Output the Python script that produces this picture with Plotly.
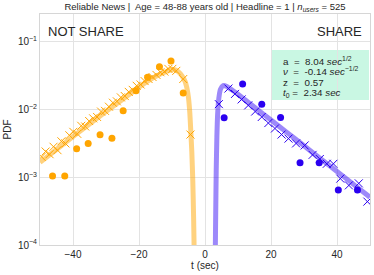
import plotly.graph_objects as go

# ---- data ----
ns_dot_t = [-46.2, -42.5, -38.9, -35.4, -31.8, -28.2, -24.8, -20.9, -17.4, -13.8, -10.3, -6.6]
ns_dot_y = [1.04e-3, 1.04e-3, 2.64e-3, 3.16e-3, 4.25e-3, 3.75e-3, 9.6e-3, 1.9e-2, 2.99e-2, 4.28e-2, 5.2e-2, 1.76e-2]

sh_dot_t = [5.8, 11.4, 17.2, 22.9, 28.8, 34.6, 40.4, 46.2]
sh_dot_y = [7.55e-3, 2.39e-2, 1.2e-2, 7.6e-3, 1.64e-3, 1.64e-3, 6.5e-4, 6.5e-4]

ns_sim_t = [-49.5, -48.3, -47.1, -45.9, -44.7, -43.5, -42.3, -41.1, -39.9, -38.7, -37.5, -36.3,
            -35.1, -33.9, -32.7, -31.5, -30.3, -29.1, -27.9, -26.7, -25.5, -24.3, -23.1, -21.9,
            -20.7, -19.5, -18.3, -17.1, -15.9, -14.7, -13.5, -12.3, -11.1, -9.9, -8.7, -6.6, -4.4]
ns_sim_y = [2.00e-3, 2.40e-3, 2.19e-3, 2.82e-3, 2.51e-3, 3.39e-3, 3.16e-3, 4.17e-3, 4.68e-3, 4.37e-3,
            5.75e-3, 5.62e-3, 6.76e-3, 7.41e-3, 7.76e-3, 9.33e-3, 9.55e-3, 1.10e-2, 1.26e-2, 1.32e-2,
            1.51e-2, 1.58e-2, 1.82e-2, 1.95e-2, 2.24e-2, 2.34e-2, 2.63e-2, 2.82e-2, 3.02e-2, 3.24e-2,
            3.55e-2, 3.63e-2, 3.98e-2, 3.98e-2, 3.72e-2, 2.82e-2, 4.27e-3]

sh_sim_t = [4.2, 7.1, 9.1, 11.1, 13.1, 15.2, 17.2, 19.2, 21.2, 23.2, 25.3, 27.6, 30.2, 32.6,
            34.8, 36.9, 38.9, 41.0, 43.6, 46.6, 49.2]
sh_sim_y = [1.20e-2, 2.04e-2, 1.70e-2, 1.41e-2, 1.15e-2, 9.33e-3, 7.76e-3, 6.31e-3, 5.25e-3, 4.27e-3,
            3.72e-3, 3.16e-3, 2.95e-3, 2.14e-3, 1.86e-3, 1.58e-3, 1.58e-3, 9.55e-4, 7.59e-4, 8.13e-4, 4.37e-4]

ns_fit_t = [-50, -45, -40, -35, -30, -25, -20, -16, -13, -11, -9.5, -8.5, -7.5, -6.5, -6.0, -5.5,
            -5.0, -4.6, -4.3, -4.0, -3.7, -3.45, -3.25, -3.1]
ns_fit_y = [1.66e-3, 2.57e-3, 3.98e-3, 6.10e-3, 9.33e-3, 1.41e-2, 2.14e-2, 2.88e-2, 3.43e-2, 3.76e-2,
            3.89e-2, 3.76e-2, 3.39e-2, 2.88e-2, 2.57e-2, 2.09e-2, 1.48e-2, 8.91e-3, 4.68e-3, 2.40e-3,
            8.91e-4, 2.51e-4, 6.31e-5, 1.58e-5]

sh_fit_t = [3.0, 3.1, 3.25, 3.4, 3.6, 3.85, 4.2, 4.7, 5.5, 6.5, 8, 10, 15, 20, 25, 30, 35, 40, 45, 50]
sh_fit_y = [1.58e-5, 6.31e-5, 3.16e-4, 1.26e-3, 3.98e-3, 8.91e-3, 1.48e-2, 2.00e-2, 2.26e-2, 2.21e-2,
            1.97e-2, 1.68e-2, 1.08e-2, 7.00e-3, 4.52e-3, 2.92e-3, 1.88e-3, 1.22e-3, 7.85e-4, 5.07e-4]

x_ticks = [-40, -20, 0, 20, 40]
y_ticks = [1e-4, 1e-3, 1e-2, 1e-1]
y_ticktext = ["10<sup>−4</sup>", "10<sup>−3</sup>", "10<sup>−2</sup>", "10<sup>−1</sup>"]

ORANGE = "#FFA500"
BLUE = "#2A00F0"
FONT = "Liberation Sans, Arial, sans-serif"

fig = go.Figure()
fig.add_trace(go.Scatter(x=ns_fit_t, y=ns_fit_y, mode="lines",
                         line=dict(color="rgba(255,165,0,0.5)", width=5, shape="spline", smoothing=0.5)))
fig.add_trace(go.Scatter(x=sh_fit_t, y=sh_fit_y, mode="lines",
                         line=dict(color="rgba(60,20,245,0.5)", width=5, shape="spline", smoothing=0.5)))
fig.add_trace(go.Scatter(x=ns_sim_t, y=ns_sim_y, mode="markers",
                         marker=dict(symbol="x-thin", size=8, line=dict(width=1, color=ORANGE))))
fig.add_trace(go.Scatter(x=sh_sim_t, y=sh_sim_y, mode="markers",
                         marker=dict(symbol="x-thin", size=8, line=dict(width=1, color=BLUE))))
fig.add_trace(go.Scatter(x=ns_dot_t, y=ns_dot_y, mode="markers",
                         marker=dict(symbol="circle", size=7, color=ORANGE)))
fig.add_trace(go.Scatter(x=sh_dot_t, y=sh_dot_y, mode="markers",
                         marker=dict(symbol="circle", size=7, color=BLUE)))

fig.add_shape(type="rect", xref="paper", yref="paper", x0=0.703, x1=0.997, y0=0.628, y1=0.844,
              fillcolor="#C9F7E3", line=dict(width=0), layer="between")

nb = "\u00a0"
lines = [
    f"a{nb}{nb}={nb}{nb}8.04 <i>sec</i><sup>1/2</sup>",
    f"<i>ν</i>{nb}{nb}={nb}{nb}-0.14 <i>sec</i><sup>−1/2</sup>",
    f"z{nb}{nb}={nb}{nb}0.57",
    f"<i>t</i><sub>0</sub>{nb}={nb}{nb}2.34 <i>sec</i>",
]
line_px = [60.7, 71.2, 82.0, 92.5]
for txt, ypx in zip(lines, line_px):
    fig.add_annotation(text=txt, xref="paper", yref="paper", x=(281 - 40) / 330, y=(245 - ypx) / 231,
                       xanchor="left", yanchor="middle", showarrow=False,
                       font=dict(size=9.8, color="#262626", family=FONT))

fig.add_annotation(text="NOT SHARE", xref="paper", yref="paper", x=(46 - 40) / 330, y=(245 - 31.5) / 231,
                   xanchor="left", yanchor="middle", showarrow=False,
                   font=dict(size=13, color="#262626", family=FONT))
fig.add_annotation(text="SHARE", xref="paper", yref="paper", x=(364 - 40) / 330, y=(245 - 31.5) / 231,
                   xanchor="right", yanchor="middle", showarrow=False,
                   font=dict(size=13, color="#262626", family=FONT))

fig.update_layout(
    width=374, height=275,
    margin=dict(l=40, r=4, t=14, b=30, autoexpand=False),
    paper_bgcolor="white", plot_bgcolor="white",
    showlegend=False,
    font=dict(family=FONT, size=10, color="#262626"),
    title=dict(text="Reliable News |  Age = 48-88 years old | Headline = 1 | <i>n</i><sub><i>users</i></sub> = 525",
               x=205 / 374, xanchor="center", y=1 - 7 / 275, yanchor="middle", yref="container",
               font=dict(size=9.5, family=FONT, color="#262626")),
)
fig.update_xaxes(range=[-50, 50], tickvals=x_ticks, showgrid=True, gridcolor="#E3E3E3", gridwidth=1,
                 zeroline=False, showline=True, linecolor="#D6D6D6", mirror=True, ticks="",
                 title=dict(text="t (sec)", standoff=2, font=dict(size=10)), tickfont=dict(size=10))
fig.update_yaxes(type="log", range=[-4, -0.59], tickvals=y_ticks, ticktext=y_ticktext,
                 showgrid=True, gridcolor="#E3E3E3", gridwidth=1, zeroline=False,
                 showline=True, linecolor="#D6D6D6", mirror=True, ticks="",
                 title=dict(text="PDF", standoff=4, font=dict(size=10)), tickfont=dict(size=10))

fig.write_html("out.html", config={"displayModeBar": False},
               post_script="document.body.style.margin='0px';")
